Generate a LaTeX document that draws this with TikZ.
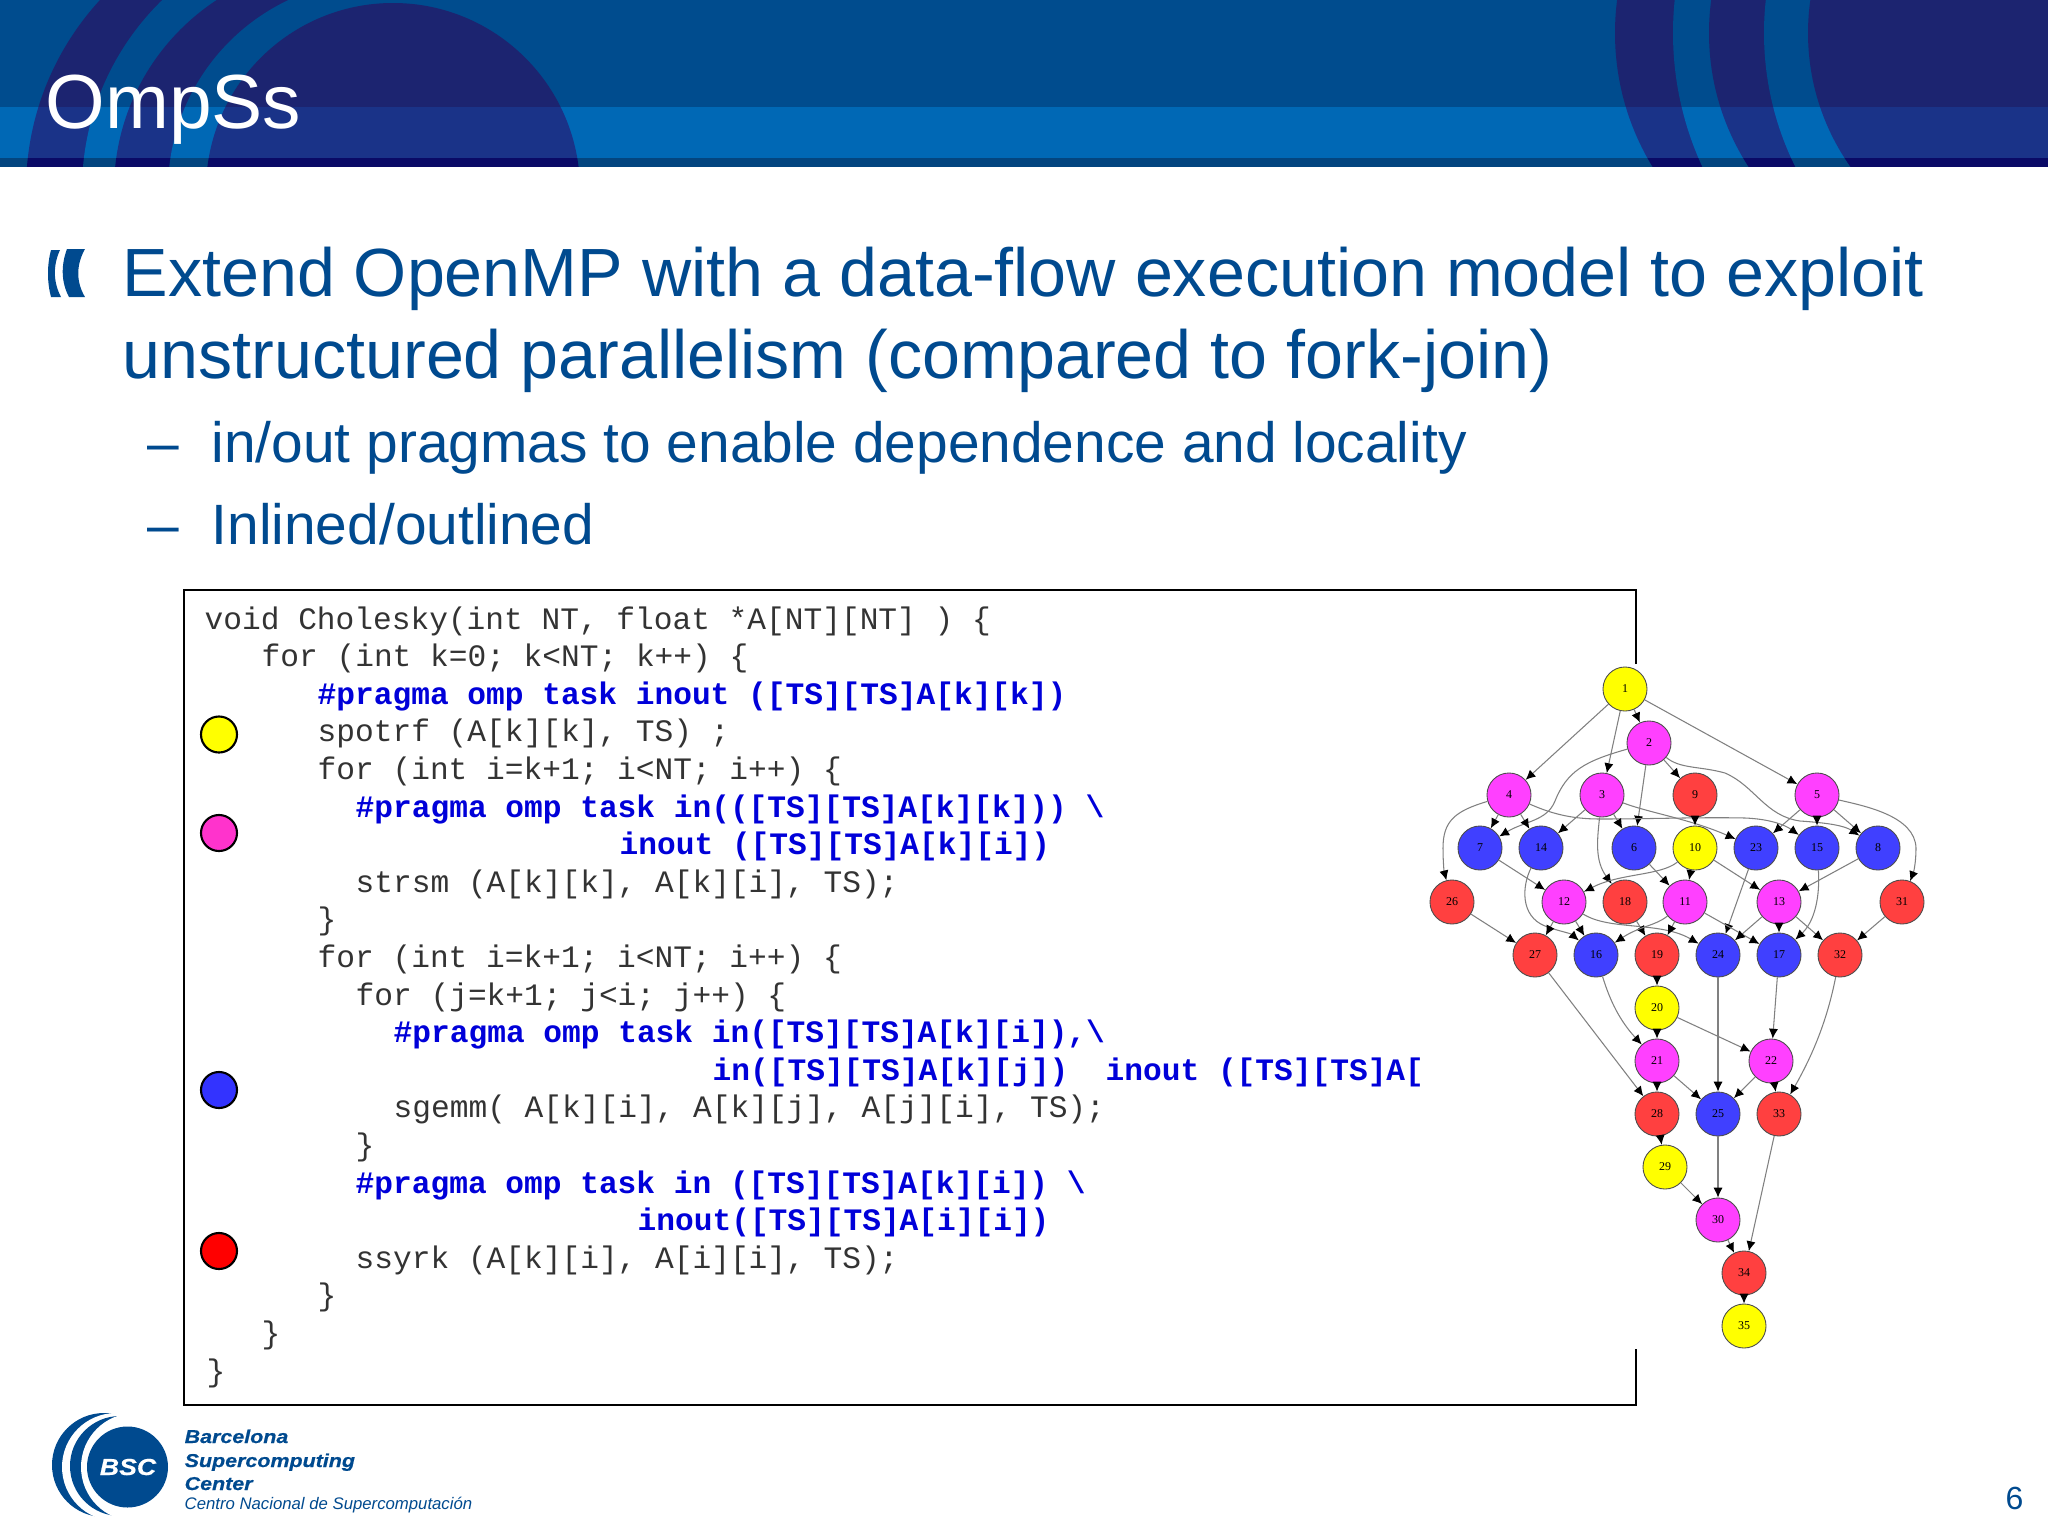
\documentclass[tikz,border=0pt]{standalone}
\usepackage{fontspec}
\setmainfont{Liberation Sans}
\setmonofont{Liberation Mono}
\newfontfamily\graphfont{Liberation Serif}
\newfontfamily\logofont[FakeStretch=1.15,BoldItalicFeatures={FakeBold=0.5}]{Liberation Sans}
\usetikzlibrary{arrows.meta,calc}
\definecolor{bscBlue}{HTML}{004A8F}
\definecolor{bannerBase}{HTML}{004C8E}
\definecolor{bannerDark}{HTML}{1C2470}
\definecolor{bandBase}{HTML}{0068B5}
\definecolor{bandDark}{HTML}{1A3388}
\definecolor{stripBase}{HTML}{03457F}
\definecolor{stripDark}{HTML}{0A0A66}
\definecolor{taskYellow}{HTML}{FFFF00}
\definecolor{taskMagenta}{HTML}{FF40FF}
\definecolor{taskBlue}{HTML}{4040FF}
\definecolor{taskRed}{HTML}{FF4040}
\definecolor{legendMagenta}{HTML}{FF33CC}
\definecolor{legendBlue}{HTML}{3333FF}
\newcommand{\bannerArcs}[2]{%
	\fill[#1] (0,0) rectangle (2048,170);
	\fill[#2] (307,190) circle (281);
	\fill[#1] (347,190) circle (265);
	\fill[#2] (341,190) circle (227);
	\fill[#1] (378,190) circle (210);
	\fill[#2] (393,190) circle (187);
	\fill[#2] (1872,33) circle (257);
	\fill[#1] (1992,33) circle (319);
	\fill[#2] (1955,33) circle (246);
	\fill[#1] (2065,33) circle (301);
	\fill[#2] (2040,33) circle (232);
}
\tikzset{
	task/.style={circle,draw=black!70,line width=0.25pt,minimum size=0.44cm,inner sep=0pt,font=\graphfont\fontsize{3.4}{4}\selectfont},
	taskY/.style={task,fill=taskYellow},
	taskM/.style={task,fill=taskMagenta},
	taskB/.style={task,fill=taskBlue},
	taskR/.style={task,fill=taskRed},
	dep/.style={draw=black!50,line width=0.3pt,-{Latex[length=2.8pt,width=2.6pt,color=black]}},
	legend/.style={circle,draw=black,line width=0.6pt,minimum size=0.36cm,inner sep=0pt},
	code/.style={anchor=base west,inner sep=0pt,font=\ttfamily\fontsize{8.87}{10}\selectfont,text=black!80},
	pragma/.style={code,font=\ttfamily\bfseries\fontsize{8.87}{10}\selectfont,text=blue!85!black},
	bodyText/.style={anchor=base west,inner sep=0pt,text=bscBlue,font=\fontsize{19.4}{22}\selectfont},
	subText/.style={anchor=base west,inner sep=0pt,text=bscBlue,font=\fontsize{16.17}{19}\selectfont},
	logoText/.style={anchor=base west,inner sep=0pt,text=bscBlue,font=\logofont\bfseries\itshape\fontsize{5.3}{6}\selectfont},
}
\begin{document}
\begin{tikzpicture}[x=0.01cm,y=-0.01cm]
	\def\yRowA{689}
	\def\yRowB{743}
	\def\yRowC{795}
	\def\yRowD{848}
	\def\yRowE{902}
	\def\yRowF{955}
	\def\yRowG{1008}
	\def\yRowH{1061}
	\def\yRowI{1114}
	\def\yRowJ{1167}
	\def\yRowK{1220}
	\def\yRowL{1273}
	\def\yRowM{1326}

\useasboundingbox (0,0) rectangle (2048,1536);
\fill[white] (0,0) rectangle (2048,1536);

\begin{scope}
	\clip (0,0) rectangle (2048,107);
	\bannerArcs{bannerBase}{bannerDark}
\end{scope}
\begin{scope}
	\clip (0,107) rectangle (2048,158);
	\bannerArcs{bandBase}{bandDark}
\end{scope}
\begin{scope}
	\clip (0,158) rectangle (2048,166);
	\bannerArcs{stripBase}{stripDark}
\end{scope}

\node[anchor=base west,inner sep=0pt,text=white,font=\fontsize{21.8}{26}\selectfont] (title) at (45,128) {OmpSs};

\fill[bscBlue] (51,250) .. controls (47,265) and (47,282) .. (51,297) -- (61,297) .. controls (53,282) and (53,265) .. (60,250) -- cycle;
\fill[bscBlue] (67,249) .. controls (61,265) and (61,282) .. (69,297) -- (85,297) .. controls (76,282) and (76,265) .. (85,249) -- cycle;

\node[bodyText] (bodyA) at (122,296) {Extend OpenMP with a data-flow execution model to exploit};
\node[bodyText] (bodyB) at (122,378) {unstructured parallelism (compared to fork-join)};
\node[subText] (dashA) at (147,462) {–};
\node[subText] (subA) at (211,462) {in/out pragmas to enable dependence and locality};
\node[subText] (dashB) at (147,544) {–};
\node[subText] (subB) at (211,544) {Inlined/outlined};

\draw[black,line width=0.75pt] (1636,664) -- (1636,590) -- (184,590) -- (184,1405) -- (1636,1405) -- (1636,1349);

\node[code] (lineA) at (204,629) {void Cholesky(int NT, float *A[NT][NT] ) \{};
\node[code] (lineB) at (261,666.6) {for (int k=0; k<NT; k++) \{};
\node[pragma] (lineC) at (317,704.2) {\#pragma omp task inout ([TS][TS]A[k][k])};
\node[code] (lineD) at (317,741.8) {spotrf (A[k][k], TS) ;};
\node[code] (lineE) at (317,779.4) {for (int i=k+1; i<NT; i++) \{};
\node[pragma] (lineF) at (355,817) {\#pragma omp task in(([TS][TS]A[k][k])) \textbackslash};
\node[pragma] (lineG) at (619,854.6) {inout ([TS][TS]A[k][i])};
\node[code] (lineH) at (355,892.2) {strsm (A[k][k], A[k][i], TS);};
\node[code] (lineI) at (317,929.8) {\}};
\node[code] (lineJ) at (317,967.4) {for (int i=k+1; i<NT; i++) \{};
\node[code] (lineK) at (355,1005) {for (j=k+1; j<i; j++) \{};
\node[pragma] (lineL) at (393,1042.6) {\#pragma omp task in([TS][TS]A[k][i]),\textbackslash};
\node[pragma] (lineM) at (712,1080.2) {in([TS][TS]A[k][j])~~inout ([TS][TS]A[};
\node[code] (lineN) at (393,1117.8) {sgemm( A[k][i], A[k][j], A[j][i], TS);};
\node[code] (lineO) at (355,1155.4) {\}};
\node[pragma] (lineP) at (355,1193) {\#pragma omp task in ([TS][TS]A[k][i]) \textbackslash};
\node[pragma] (lineQ) at (637,1230.6) {inout([TS][TS]A[i][i])};
\node[code] (lineR) at (355,1268.2) {ssyrk (A[k][i], A[i][i], TS);};
\node[code] (lineS) at (317,1305.8) {\}};
\node[code] (lineT) at (261,1343.4) {\}};
\node[code] (lineU) at (206,1381) {\}};

\node[legend,fill=taskYellow] (legendY) at (219,734.5) {};
\node[legend,fill=legendMagenta] (legendM) at (219,833) {};
\node[legend,fill=legendBlue] (legendB) at (219,1090) {};
\node[legend,fill=red] (legendR) at (219,1251) {};

\node[taskY] (n1) at (1625,\yRowA) {1};
\node[taskM] (n2) at (1649,\yRowB) {2};
\node[taskM] (n4) at (1509,\yRowC) {4};
\node[taskM] (n3) at (1602,\yRowC) {3};
\node[taskR] (n9) at (1695,\yRowC) {9};
\node[taskM] (n5) at (1817,\yRowC) {5};
\node[taskB] (n7) at (1480,\yRowD) {7};
\node[taskB] (n14) at (1541,\yRowD) {14};
\node[taskB] (n6) at (1634,\yRowD) {6};
\node[taskY] (n10) at (1695,\yRowD) {10};
\node[taskB] (n23) at (1756,\yRowD) {23};
\node[taskB] (n15) at (1817,\yRowD) {15};
\node[taskB] (n8) at (1878,\yRowD) {8};
\node[taskR] (n26) at (1452,\yRowE) {26};
\node[taskM] (n12) at (1564,\yRowE) {12};
\node[taskR] (n18) at (1625,\yRowE) {18};
\node[taskM] (n11) at (1685,\yRowE) {11};
\node[taskM] (n13) at (1779,\yRowE) {13};
\node[taskR] (n31) at (1902,\yRowE) {31};
\node[taskR] (n27) at (1535,\yRowF) {27};
\node[taskB] (n16) at (1596,\yRowF) {16};
\node[taskR] (n19) at (1657,\yRowF) {19};
\node[taskB] (n24) at (1718,\yRowF) {24};
\node[taskB] (n17) at (1779,\yRowF) {17};
\node[taskR] (n32) at (1840,\yRowF) {32};
\node[taskY] (n20) at (1657,\yRowG) {20};
\node[taskM] (n21) at (1657,\yRowH) {21};
\node[taskM] (n22) at (1771,\yRowH) {22};
\node[taskR] (n28) at (1657,\yRowI) {28};
\node[taskB] (n25) at (1718,\yRowI) {25};
\node[taskR] (n33) at (1779,\yRowI) {33};
\node[taskY] (n29) at (1665,\yRowJ) {29};
\node[taskM] (n30) at (1718,\yRowK) {30};
\node[taskR] (n34) at (1744,\yRowL) {34};
\node[taskY] (n35) at (1744,\yRowM) {35};

\draw[dep] (n1) -- (n4);
\draw[dep] (n1) -- (n3);
\draw[dep] (n1) -- (n2);
\draw[dep] (n1) -- (n5);
\draw[dep] (n2) .. controls (1585,761) and (1567,771) .. (1555,801) .. controls (1547,821) and (1525,821) .. (n7);
\draw[dep] (n2) -- (n6);
\draw[dep] (n2) -- (n9);
\draw[dep] (n2) .. controls (1680,769) and (1700,766) .. (1725,773) .. controls (1755,786) and (1765,816) .. (1800,821) .. controls (1830,823) and (1845,826) .. (n8);
\draw[dep] (n4) .. controls (1455,811) and (1443,821) .. (1443,848) .. controls (1443,861) and (1444,871) .. (n26);
\draw[dep] (n4) -- (n7);
\draw[dep] (n4) -- (n14);
\draw[dep] (n4) .. controls (1550,813) and (1570,819) .. (1600,819) .. controls (1650,819) and (1700,817) .. (1745,818) .. controls (1770,819) and (1785,825) .. (n15);
\draw[dep] (n3) -- (n14);
\draw[dep] (n3) -- (n6);
\draw[dep] (n3) .. controls (1597,841) and (1595,861) .. (n18);
\draw[dep] (n3) .. controls (1650,813) and (1690,819) .. (n23);
\draw[dep] (n9) -- (n10);
\draw[dep] (n5) -- (n23);
\draw[dep] (n5) -- (n15);
\draw[dep] (n5) -- (n8);
\draw[dep] (n5) .. controls (1865,806) and (1915,816) .. (1916,848) .. controls (1916,861) and (1914,871) .. (n31);
\draw[dep] (n7) -- (n12);
\draw[dep] (n14) .. controls (1522,886) and (1520,916) .. (1545,926) .. controls (1558,931) and (1570,933) .. (n16);
\draw[dep] (n6) -- (n11);
\draw[dep] (n10) .. controls (1660,876) and (1620,873) .. (n12);
\draw[dep] (n10) -- (n11);
\draw[dep] (n10) -- (n13);
\draw[dep] (n23) -- (n24);
\draw[dep] (n15) .. controls (1820,896) and (1815,921) .. (n17);
\draw[dep] (n8) -- (n13);
\draw[dep] (n26) -- (n27);
\draw[dep] (n12) -- (n27);
\draw[dep] (n12) -- (n16);
\draw[dep] (n12) .. controls (1610,931) and (1660,921) .. (n24);
\draw[dep] (n18) -- (n19);
\draw[dep] (n11) .. controls (1655,926) and (1640,926) .. (n16);
\draw[dep] (n11) -- (n19);
\draw[dep] (n11) -- (n17);
\draw[dep] (n13) -- (n24);
\draw[dep] (n13) -- (n17);
\draw[dep] (n13) -- (n32);
\draw[dep] (n31) -- (n32);
\draw[dep] (n19) -- (n20);
\draw[dep] (n20) -- (n21);
\draw[dep] (n20) -- (n22);
\draw[dep] (n16) .. controls (1610,1001) and (1620,1021) .. (n21);
\draw[dep] (n27) -- (n28);
\draw[dep] (n24) -- (n25);
\draw[dep] (n17) -- (n22);
\draw[dep] (n32) .. controls (1828,1016) and (1815,1051) .. (n33);
\draw[dep] (n21) -- (n28);
\draw[dep] (n21) -- (n25);
\draw[dep] (n22) -- (n25);
\draw[dep] (n22) -- (n33);
\draw[dep] (n28) -- (n29);
\draw[dep] (n29) -- (n30);
\draw[dep] (n25) -- (n30);
\draw[dep] (n30) -- (n34);
\draw[dep] (n33) -- (n34);
\draw[dep] (n34) -- (n35);

\fill[bscBlue] (104,1465) circle (52);
\fill[white] (116,1467) circle (54);
\fill[bscBlue] (120,1466) circle (50);
\fill[white] (135,1467) circle (54);
\fill[bscBlue] (127.5,1467) circle (40.5);
\node[anchor=base,inner sep=0pt,text=white,font=\logofont\bfseries\itshape\fontsize{6.6}{8}\selectfont] (logoBsc) at (128,1475) {BSC};
\node[logoText] (logoA) at (184,1443) {Barcelona};
\node[logoText] (logoB) at (184,1467) {Supercomputing};
\node[logoText] (logoC) at (184,1490) {Center};
\node[anchor=base west,inner sep=0pt,text=bscBlue,font=\itshape\fontsize{4.76}{6}\selectfont] (logoD) at (184,1509) {Centro Nacional de Supercomputación};
\node[anchor=base west,inner sep=0pt,text=bscBlue,font=\fontsize{9.1}{11}\selectfont] (pageNo) at (2005,1509) {6};
\end{tikzpicture}
\end{document}
